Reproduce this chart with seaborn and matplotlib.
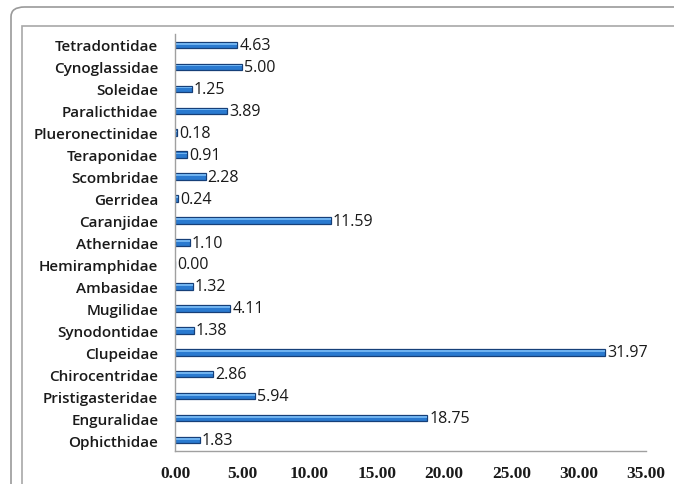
import matplotlib
matplotlib.use("Agg")
import matplotlib.pyplot as plt
from matplotlib.patches import FancyBboxPatch, Rectangle
import seaborn as sns
import pandas as pd

families = [
    "Tetradontidae", "Cynoglassidae", "Soleidae", "Paralicthidae",
    "Plueronectinidae", "Teraponidae", "Scombridae", "Gerridea",
    "Caranjidae", "Athernidae", "Hemiramphidae", "Ambasidae",
    "Mugilidae", "Synodontidae", "Clupeidae", "Chirocentridae",
    "Pristigasteridae", "Enguralidae", "Ophicthidae",
]
percent = [
    4.63, 5.00, 1.25, 3.89, 0.18, 0.91, 2.28, 0.24, 11.59, 1.10,
    0.00, 1.32, 4.11, 1.38, 31.97, 2.86, 5.94, 18.75, 1.83,
]
x_ticks = [0, 5, 10, 15, 20, 25, 30, 35]

df = pd.DataFrame({"family": families, "percent": percent})

sns.set_theme(style="white")
plt.rcParams["font.family"] = ["Open Sans", "DejaVu Sans"]

fig = plt.figure(figsize=(6.74, 4.85), dpi=100)

# outer and inner frames of the chart area
outer = FancyBboxPatch((11 / 674, -0.2), 1.2, (485 - 8) / 485 + 0.2,
                       boxstyle="round,pad=0,rounding_size=0.02",
                       transform=fig.transFigure, facecolor="white",
                       edgecolor="#9a9a9a", linewidth=1.2, zorder=-3)
inner = Rectangle((22 / 674, -0.2), 1.2, (485 - 27) / 485 + 0.2,
                  transform=fig.transFigure, facecolor="white",
                  edgecolor="#a8a8a8", linewidth=1.2, zorder=-2)
fig.patches.extend([outer, inner])

ax = fig.add_axes([175 / 674, 33 / 485, (646 - 175) / 674, (452 - 35) / 485])
ax.set_facecolor("none")
ax.set_zorder(1)

# bar body with a dark rim, then a thin light stripe for the glossy look
sns.barplot(data=df, x="percent", y="family", orient="h", ax=ax,
            color="#2a7ad0", edgecolor="#163f78", linewidth=0.9,
            width=0.30, saturation=1)
sns.barplot(data=df, x="percent", y="family", orient="h", ax=ax,
            color="#6fb2ef", linewidth=0, width=0.08, saturation=1)
for bar in ax.patches[len(percent):]:
    bar.set_y(bar.get_y() - 0.06)

for i, v in enumerate(percent):
    ax.text(v + 0.15, i, f"{v:.2f}", va="center", ha="left",
            fontsize=11.5, color="#1a1a1a")

ax.set_xlim(0, 35)
ax.set_ylim(18.5, -0.5)
ax.set_xticks(x_ticks)
ax.set_xticklabels([f"{t:.2f}" for t in x_ticks],
                   family="Liberation Serif", fontweight="bold", fontsize=12.5)
ax.tick_params(axis="x", length=0, pad=10, colors="#1a1a1a")
ax.tick_params(axis="y", length=0, pad=12)
for lab in ax.get_yticklabels():
    lab.set_fontweight("semibold")
    lab.set_fontsize(11)
    lab.set_color("#1a1a1a")
ax.set_xlabel("")
ax.set_ylabel("")

for side in ["top", "right"]:
    ax.spines[side].set_visible(False)
for side in ["left", "bottom"]:
    ax.spines[side].set_color("#a0a0a0")
    ax.spines[side].set_linewidth(1.0)

fig.savefig("out.png", dpi=100)
